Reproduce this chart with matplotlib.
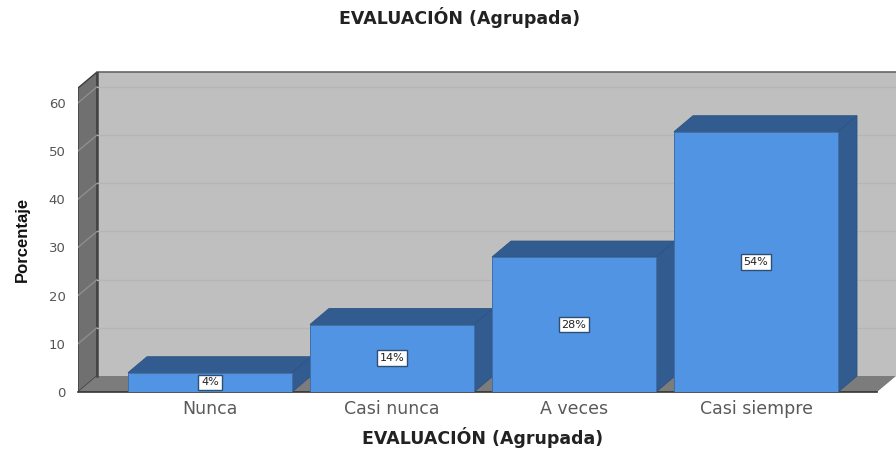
import matplotlib
matplotlib.use('Agg')
from matplotlib import pyplot as plt
from matplotlib.patches import Polygon

categorias = ['Nunca', 'Casi nunca', 'A veces', 'Casi siempre']
porcentajes = [4, 14, 28, 54]
etiquetas = ['4%', '14%', '28%', '54%']
ticks_y = [0, 10, 20, 30, 40, 50, 60]

titulo = 'EVALUACIÓN (Agrupada)'
xlabel = 'EVALUACIÓN (Agrupada)'
ylabel = 'Porcentaje'

W, H = 896, 451
fig = plt.figure(figsize=(W / 100, H / 100), dpi=100)

# eixos alinhados com o plano frontal do grafico
left, right, base, top = 78, 896, 392, 72
ax = fig.add_axes([left / W, 1 - base / H, (right - left) / W, (base - top) / H])
px_y = 4.82
px_x = 182
ax.set_xlim((left - 210) / px_x, (right - 210) / px_x)
ax.set_ylim(0, (base - top) / px_y)
for s in ax.spines.values():
    s.set_visible(False)
ax.patch.set_visible(False)

# profundidade do efeito 3D
dx = 19 / px_x
dy = 16 / px_y
x0 = ax.get_xlim()[0]
x1 = ax.get_xlim()[1]
y1 = ax.get_ylim()[1]
frente_dir = x1 - dx
larg = 164 / px_x

# paredes e chao
ax.add_patch(Polygon([(x0 + dx, dy), (x1, dy), (x1, y1), (x0 + dx, y1)], fc='#bfbfbf', ec='none', zorder=1))
ax.add_patch(Polygon([(x0, 0), (x0 + dx, dy), (x0 + dx, y1), (x0, y1 - dy)], fc='#707070', ec='#3c3c3c', lw=1, zorder=1))
ax.add_patch(Polygon([(x0, 0), (x0 + dx, dy), (x1, dy), (frente_dir, 0)], fc='#7c7c7c', ec='none', zorder=1))
ax.plot([x0 + dx, x1], [y1, y1], color='#666666', lw=1.2, zorder=2, clip_on=False)
ax.plot([x0 + dx, x0 + dx], [dy, y1], color='#444444', lw=1.8, zorder=2)
ax.plot([x0, frente_dir], [0, 0], color='#333333', lw=1.2, zorder=2, clip_on=False)

# grades
for v in ticks_y[1:]:
    ax.plot([x0 + dx, x1], [v + dy, v + dy], color='#b5b5b5', lw=0.9, zorder=2)
    ax.plot([x0, x0 + dx], [v, v + dy], color='#8e8e8e', lw=1, zorder=2)

# barras
for i, v in enumerate(porcentajes):
    a = i - larg / 2
    b = i + larg / 2
    ax.add_patch(Polygon([(a, v), (a + dx, v + dy), (b + dx, v + dy), (b, v)], fc='#325c90', ec='#2d5383', lw=0.6, zorder=3 + i))
    ax.add_patch(Polygon([(b, 0), (b + dx, dy), (b + dx, v + dy), (b, v)], fc='#325c90', ec='#2d5383', lw=0.6, zorder=3 + i))
    ax.bar(i, v, width=larg, color='#5294e4', edgecolor='#3f6ea8', linewidth=0.7, zorder=3 + i)
    ax.text(i, v / 2, etiquetas[i], ha='center', va='center', fontsize=8, color='#222222', zorder=10,
            bbox=dict(boxstyle='square,pad=0.25', fc='white', ec='#2f4f72', lw=1))

ax.set_xticks(range(len(categorias)))
ax.set_xticklabels(categorias, fontsize=12.5, color='#5a5a5a')
ax.set_yticks(ticks_y)
ax.set_yticklabels(ticks_y, fontsize=9.5, color='#555555')
ax.tick_params(axis='both', length=0)
ax.tick_params(axis='x', pad=6)
ax.tick_params(axis='y', pad=9)

fig.text(460 / W, 1 - 18 / H, titulo, ha='center', va='center', fontsize=12.5, fontweight='bold', color='#222222')
fig.text(483 / W, 1 - 438 / H, xlabel, ha='center', va='center', fontsize=12.5, fontweight='bold', color='#222222')
fig.text(22 / W, 1 - 239 / H, ylabel, ha='center', va='center', rotation=90, fontsize=12, fontweight='bold',
         color='#111111', family=['Liberation Sans Narrow', 'Liberation Sans'])

fig.savefig('out.png', dpi=100)
